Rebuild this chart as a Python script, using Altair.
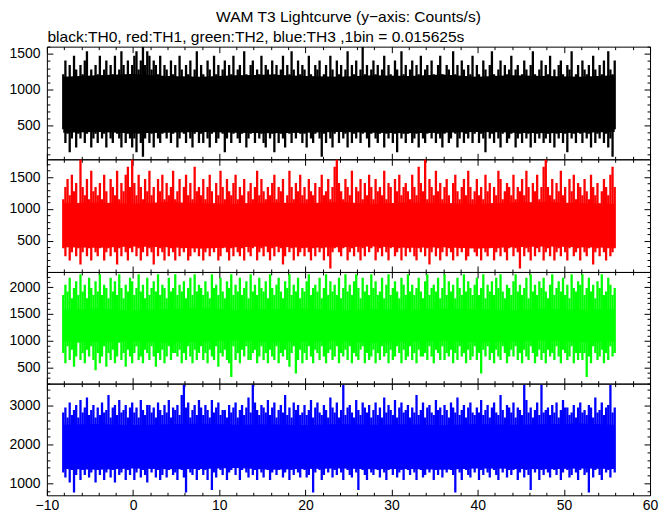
import altair as alt
import numpy as np
import pandas as pd

# ---------------- data ----------------
# Each light curve is summarised by the highest and lowest rate (counts/s)
# inside consecutive 0.25 s slices, starting at T0, plus the band that the
# trace fills solidly (sampled every 4 s).
T0 = -8.1
STEP = 0.25
CORE_STEP = 4.0

# TH0 (black)
th0_hi = [1216, 1408, 1152, 1344, 1088, 1472, 1280, 1152, 1344, 1216, 1408, 1536, 1152, 1280, 1024, 1344,
          1216, 1472, 1088, 1280, 1408, 1152, 1344, 1216, 1472, 1088, 1280, 1536, 1344, 1152, 1408, 1216,
          1344, 1472, 1536, 1280, 1408, 1600, 1344, 1536, 1472, 1280, 1408, 1344, 1216, 1472, 1152, 1344,
          1280, 1088, 1408, 1216, 1344, 1152, 1472, 1280, 1024, 1344, 1216, 1408, 1088, 1280, 1536, 1152,
          1344, 1216, 1088, 1408, 1280, 1152, 1472, 1216, 1344, 1088, 1280, 1408, 1152, 1344, 1216, 1472,
          1088, 1280, 1344, 1152, 1536, 1216, 1024, 1344, 1408, 1152, 1280, 1216, 1472, 1088, 1344, 1280,
          1152, 1408, 1216, 1344, 1088, 1280, 1472, 1152, 1344, 1216, 1536, 1280, 1088, 1408, 1216, 1344,
          1280, 1152, 1472, 1216, 1088, 1344, 1280, 1408, 1152, 1216, 1344, 1088, 1472, 1280, 1152, 1408,
          1216, 1344, 1088, 1280, 1536, 1152, 1344, 1216, 1408, 1088, 1280, 1600, 1216, 1344, 1152, 1280,
          1408, 1216, 1344, 1088, 1280, 1472, 1152, 1344, 1216, 1088, 1408, 1280, 1152, 1536, 1216, 1344,
          1088, 1280, 1408, 1152, 1344, 1216, 1472, 1088, 1280, 1344, 1152, 1408, 1216, 1088, 1344, 1472,
          1216, 1152, 1344, 1280, 1088, 1536, 1216, 1344, 1152, 1408, 1280, 1088, 1344, 1216, 1472, 1152,
          1344, 1216, 1088, 1408, 1280, 1152, 1344, 1536, 1216, 1088, 1280, 1408, 1152, 1344, 1216, 1280,
          1472, 1152, 1280, 1344, 1088, 1216, 1408, 1280, 1152, 1344, 1536, 1216, 1088, 1280, 1408, 1152,
          1344, 1216, 1472, 1088, 1280, 1152, 1344, 1408, 1216, 1088, 1344, 1280, 1536, 1152, 1216, 1344,
          1088, 1408, 1280, 1216, 1344, 1152, 1472, 1280, 1088, 1344, 1216, 1408, 1152, 1536, 1280, 1216,
          1408]
th0_lo = [448, 256, 384, 128, 320, 448, 192, 384, 320, 512, 256, 384, 448, 192, 320, 384,
          256, 448, 320, 384, 192, 512, 320, 256, 448, 384, 320, 192, 448, 256, 384, 320,
          192, 320, 128, 384, 256, 64, 320, 448, 256, 384, 192, 448, 320, 256, 384, 448,
          320, 448, 256, 384, 512, 192, 320, 448, 384, 256, 448, 320, 192, 384, 448, 256,
          384, 256, 448, 320, 192, 384, 512, 256, 320, 448, 384, 128, 320, 448, 256, 384,
          448, 320, 256, 384, 448, 192, 320, 384, 512, 256, 448, 320, 384, 256, 192, 448,
          320, 384, 128, 448, 256, 384, 320, 192, 448, 384, 256, 512, 320, 448, 384, 256,
          384, 192, 448, 320, 256, 384, 448, 320, 64, 384, 256, 448, 320, 192, 384, 448,
          256, 448, 320, 384, 192, 448, 256, 384, 320, 512, 256, 384, 448, 320, 192, 384,
          448, 320, 256, 384, 448, 192, 384, 320, 448, 256, 384, 128, 448, 320, 384, 256,
          384, 448, 256, 320, 384, 192, 448, 320, 256, 384, 448, 320, 512, 256, 384, 320,
          192, 384, 448, 256, 320, 448, 384, 192, 320, 448, 256, 384, 320, 448, 256, 384,
          448, 256, 384, 320, 128, 448, 320, 384, 256, 448, 320, 192, 384, 448, 256, 320,
          384, 448, 192, 320, 384, 256, 448, 320, 384, 192, 448, 256, 384, 320, 448, 256,
          320, 384, 256, 448, 192, 384, 320, 448, 256, 384, 128, 448, 320, 384, 256, 448,
          384, 256, 448, 320, 384, 192, 448, 256, 384, 320, 448, 256, 384, 192, 320, 64,
          448]
th0_core_hi = [1180, 1200, 1220, 1190, 1180, 1200, 1210, 1190, 1180, 1200, 1190, 1210, 1180, 1200, 1190, 1180, 1200]
th0_core_lo = [400, 410, 390, 400, 410, 400, 390, 400, 410, 400, 390, 400, 410, 400, 390, 400, 410]

# TH1 (red)
th1_hi = [1152, 1344, 1472, 1216, 1536, 1280, 1408, 1088, 1776, 1344, 1216, 1472, 1152, 1600, 1280, 1344,
          1216, 1408, 1152, 1536, 1280, 1088, 1472, 1344, 1216, 1600, 1152, 1408, 1280, 1536, 1664, 1344,
          1776, 1408, 1216, 1536, 1344, 1152, 1472, 1280, 1600, 1216, 1344, 1088, 1472, 1280, 1536, 1152,
          1408, 1216, 1344, 1600, 1152, 1280, 1472, 1088, 1344, 1536, 1216, 1408, 1152, 1664, 1280, 1344,
          1216, 1472, 1152, 1344, 1536, 1280, 1088, 1408, 1216, 1600, 1344, 1152, 1472, 1280, 1216, 1408,
          1536, 1152, 1344, 1216, 1472, 1088, 1280, 1408, 1152, 1344, 1600, 1216, 1472, 1280, 1152, 1344,
          1216, 1408, 1536, 1152, 1344, 1280, 1472, 1088, 1216, 1600, 1344, 1152, 1408, 1280, 1536, 1216,
          1344, 1152, 1472, 1280, 1216, 1408, 1088, 1344, 1536, 1216, 1280, 1472, 1152, 1344, 1664, 1776,
          1408, 1280, 1152, 1472, 1344, 1216, 1600, 1088, 1344, 1280, 1472, 1152, 1408, 1216, 1536, 1344,
          1152, 1472, 1280, 1344, 1216, 1600, 1152, 1408, 1344, 1088, 1472, 1280, 1536, 1216, 1344, 1408,
          1280, 1152, 1536, 1344, 1216, 1664, 1408, 1280, 1776, 1152, 1472, 1344, 1216, 1600, 1280, 1408,
          1152, 1344, 1472, 1216, 1088, 1408, 1536, 1280, 1152, 1344, 1472, 1216, 1600, 1344, 1152, 1280,
          1472, 1216, 1344, 1152, 1536, 1280, 1408, 1088, 1344, 1216, 1600, 1472, 1152, 1280, 1408, 1344,
          1216, 1536, 1152, 1344, 1280, 1472, 1216, 1600, 1344, 1088, 1408, 1280, 1536, 1152, 1344, 1664,
          1776, 1344, 1216, 1472, 1152, 1408, 1280, 1600, 1216, 1344, 1088, 1472, 1280, 1536, 1152, 1408,
          1344, 1216, 1472, 1280, 1152, 1536, 1344, 1216, 1408, 1088, 1280, 1472, 1344, 1216, 1536, 1664,
          1344]
th1_lo = [384, 256, 448, 192, 320, 448, 256, 384, 128, 320, 448, 256, 384, 192, 448, 320,
          256, 384, 448, 192, 320, 384, 256, 448, 320, 128, 384, 256, 448, 320, 192, 384,
          320, 448, 256, 384, 192, 320, 448, 256, 384, 320, 128, 448, 256, 384, 320, 192,
          448, 256, 384, 320, 192, 448, 256, 384, 320, 448, 192, 256, 384, 320, 448, 256,
          384, 192, 320, 448, 256, 384, 320, 448, 192, 256, 384, 448, 320, 192, 384, 256,
          448, 320, 256, 384, 192, 448, 320, 256, 384, 448, 192, 320, 384, 256, 448, 320,
          192, 384, 256, 448, 320, 384, 128, 256, 448, 320, 384, 192, 448, 256, 320, 384,
          256, 448, 320, 192, 384, 256, 448, 320, 384, 192, 448, 256, 64, 320, 384, 448,
          320, 256, 384, 448, 192, 320, 384, 256, 448, 320, 192, 384, 256, 448, 320, 384,
          448, 192, 320, 384, 256, 448, 320, 192, 384, 448, 256, 320, 384, 192, 448, 256,
          384, 320, 448, 256, 192, 384, 320, 448, 256, 384, 128, 320, 448, 256, 384, 192,
          320, 448, 256, 384, 320, 192, 448, 256, 384, 320, 448, 192, 256, 384, 448, 320,
          256, 384, 192, 448, 320, 256, 384, 448, 192, 320, 384, 256, 448, 320, 192, 384,
          448, 256, 384, 320, 64, 448, 256, 384, 320, 192, 448, 256, 384, 320, 448, 192,
          320, 384, 256, 448, 192, 320, 384, 256, 448, 320, 192, 384, 448, 256, 320, 384,
          192, 448, 320, 256, 384, 448, 128, 320, 384, 256, 448, 320, 192, 384, 256, 320,
          384]
th1_core_hi = [1090, 1100, 1080, 1110, 1090, 1080, 1100, 1090, 1110, 1080, 1100, 1090, 1080, 1100, 1110, 1090, 1080]
th1_core_lo = [400, 390, 410, 400, 380, 400, 410, 390, 400, 410, 390, 400, 380, 400, 410, 400, 390]

# TH2 (green)
th2_hi = [1856, 2048, 1920, 2176, 1792, 1984, 2112, 1856, 2240, 1920, 2048, 1792, 2176, 1984, 1856, 2112,
          1920, 2240, 1856, 2048, 1984, 1792, 2176, 1920, 2112, 1856, 2240, 1984, 1792, 2048, 1920, 2176,
          2112, 1856, 1984, 2240, 1920, 2048, 1792, 2176, 1856, 1984, 2112, 1920, 2240, 1856, 2048, 1984,
          1792, 2176, 1920, 1984, 2240, 1856, 2048, 1920, 2112, 1792, 1984, 2176, 1856, 2240, 1920, 2048,
          1984, 1856, 2112, 1920, 1792, 2240, 1984, 2048, 1856, 2176, 1920, 1792, 2112, 1984, 2240, 1856,
          2048, 1920, 2176, 1856, 1984, 2112, 1792, 2240, 1920, 2048, 1856, 2176, 1984, 1920, 2112, 1792,
          2240, 1984, 1856, 2048, 2176, 1920, 1792, 2112, 1984, 2240, 1856, 2048, 1920, 2176, 1792, 1984,
          1920, 2112, 2240, 1856, 1984, 2048, 1920, 2176, 1792, 1984, 2240, 1856, 2112, 1920, 2048, 1856,
          2176, 1792, 1984, 2240, 1920, 2048, 1856, 2112, 2240, 1984, 1792, 2176, 1920, 2048, 1856, 2240,
          1984, 2112, 1856, 1920, 2176, 1792, 2048, 2240, 1856, 1984, 2112, 1920, 1792, 2176, 2048, 1856,
          2240, 1920, 2048, 1856, 1984, 2176, 1920, 1792, 2112, 2240, 1856, 1984, 2048, 1920, 2176, 1792,
          1984, 2240, 1856, 2112, 1920, 2048, 1792, 2176, 1984, 1856, 2240, 1920, 2112, 1984, 1856, 2048,
          2176, 1856, 1984, 2240, 1792, 2048, 1920, 2112, 1856, 2176, 1984, 2240, 1920, 1792, 2048, 1984,
          1856, 2112, 2240, 1920, 2048, 1856, 1984, 2176, 1792, 2240, 1920, 2048, 1856, 2112, 1984, 2176,
          1920, 1792, 2048, 2240, 1856, 1984, 2112, 1920, 2176, 1856, 2048, 1792, 2240, 1984, 1920, 2112,
          2048, 2240, 1856, 1984, 2176, 1920, 2048, 1792, 2112, 1984, 2240, 1856, 1920, 2176, 2048, 1856,
          1984]
th2_lo = [768, 576, 896, 640, 832, 512, 704, 960, 640, 768, 576, 832, 704, 896, 640, 448,
          768, 576, 704, 896, 512, 768, 640, 832, 576, 704, 960, 640, 768, 512, 832, 704,
          576, 768, 896, 640, 704, 576, 832, 768, 640, 896, 704, 512, 768, 640, 832, 576,
          704, 896, 640, 768, 768, 704, 832, 576, 768, 640, 896, 704, 576, 832, 640, 768,
          896, 640, 768, 576, 832, 704, 640, 896, 512, 768, 704, 832, 640, 576, 320, 896,
          640, 768, 576, 832, 704, 896, 640, 640, 768, 832, 576, 704, 896, 640, 768, 576,
          832, 704, 640, 896, 576, 768, 704, 832, 640, 512, 768, 896, 384, 640, 832, 576,
          768, 640, 896, 704, 576, 832, 768, 640, 896, 704, 576, 768, 832, 640, 704, 896,
          576, 768, 704, 832, 640, 896, 576, 768, 704, 640, 832, 896, 576, 768, 640, 704,
          832, 576, 768, 640, 896, 704, 768, 576, 832, 640, 704, 896, 768, 576, 832, 640,
          704, 896, 640, 768, 576, 832, 704, 704, 768, 640, 896, 704, 576, 832, 768, 640,
          896, 640, 768, 704, 832, 576, 768, 640, 896, 704, 768, 576, 832, 640, 704, 896,
          640, 768, 384, 832, 704, 896, 640, 768, 576, 832, 704, 640, 896, 768, 576, 704,
          832, 704, 896, 640, 768, 576, 832, 704, 640, 896, 768, 576, 704, 832, 640, 768,
          576, 832, 704, 768, 640, 896, 704, 576, 832, 768, 640, 704, 896, 576, 768, 640,
          768, 640, 768, 320, 704, 576, 896, 768, 640, 704, 832, 576, 768, 640, 896, 704,
          768]
th2_core_hi = [1580, 1600, 1570, 1590, 1610, 1580, 1590, 1600, 1570, 1590, 1580, 1600, 1590, 1570, 1600, 1580, 1590]
th2_core_lo = [980, 970, 990, 960, 980, 1000, 970, 980, 990, 960, 980, 990, 970, 980, 1000, 970, 980]

# TH3 (blue)
th3_hi = [2816, 2944, 2688, 3072, 2752, 2880, 3008, 2688, 3136, 2816, 2944, 3200, 2752, 2880, 3008, 2688,
          2944, 2752, 3072, 2816, 2880, 3264, 2688, 2944, 3008, 2752, 3136, 2816, 2880, 3008, 2688, 2944,
          3072, 2816, 2944, 2688, 3136, 2880, 2752, 3008, 3008, 2816, 2944, 2688, 3072, 2880, 2752, 3008,
          2816, 3136, 2688, 2944, 2880, 3008, 2752, 3264, 3520, 2944, 3072, 2688, 2880, 3008, 2752, 3136,
          2944, 2752, 3008, 2880, 2688, 3136, 2816, 2944, 3072, 2752, 2880, 2880, 2688, 3008, 2816, 2944,
          3072, 2688, 2880, 3008, 2752, 2944, 3200, 2816, 3520, 3072, 2880, 2752, 3008, 2944, 2816, 3136,
          2752, 2944, 3072, 2688, 2880, 3008, 2816, 3264, 2752, 2944, 2688, 3072, 2880, 3008, 2752, 2816,
          3008, 2752, 2880, 3136, 2688, 2944, 3072, 2816, 2752, 3008, 2880, 2688, 3200, 2944, 2816, 3072,
          2688, 2880, 3520, 2752, 2944, 3008, 2816, 2688, 3136, 2880, 2752, 3072, 2944, 2816, 3008, 2688,
          2880, 3072, 2752, 2944, 2688, 3200, 2816, 3008, 2880, 2752, 3136, 2688, 2944, 3072, 2816, 2880,
          3008, 2688, 2944, 2816, 3264, 2752, 2880, 3072, 2688, 2944, 3008, 2816, 2752, 3136, 2880, 2944,
          2752, 3008, 2880, 2688, 3072, 2944, 2816, 3200, 2752, 2880, 3008, 2688, 2944, 3072, 2816, 2752,
          2944, 2816, 3136, 2752, 2880, 3008, 2688, 2944, 3072, 2816, 2752, 3264, 2880, 2688, 3008, 2944,
          2816, 3072, 2688, 2944, 2880, 2752, 3520, 3136, 2816, 2944, 2688, 2880, 3072, 2752, 3520, 2816,
          2880, 2944, 2752, 3008, 2816, 3072, 2688, 2880, 3136, 2944, 2944, 2752, 2816, 3008, 2688, 2944,
          3072, 2816, 2880, 2752, 3008, 2944, 2688, 3200, 2816, 2880, 3072, 2752, 2944, 3008, 3520, 2816,
          2944]
th3_lo = [1280, 1152, 1408, 1024, 1344, 768, 1216, 1472, 1088, 1344, 1216, 1408, 1152, 1280, 1472, 1024,
          1344, 1216, 1472, 1088, 1280, 1408, 1152, 1344, 1024, 1472, 1216, 1280, 1408, 1088, 1344, 1216,
          1408, 1088, 1280, 1472, 1152, 1344, 1216, 1024, 1408, 1280, 1472, 1152, 1344, 1088, 1216, 1408,
          1152, 1344, 1472, 1216, 1280, 1088, 1408, 1344, 1152, 768, 1472, 1280, 1216, 1408, 1088, 1344,
          1472, 1216, 1344, 1088, 1408, 832, 1280, 1152, 1472, 1344, 1216, 1408, 1088, 1280, 1344, 1472,
          1216, 1408, 1088, 1344, 1472, 1280, 1152, 1408, 1216, 1344, 1088, 1472, 1280, 1152, 1408, 1344,
          1088, 1280, 1472, 1216, 1344, 1408, 1152, 1280, 1472, 1088, 1344, 1216, 1408, 1280, 1152, 1472,
          1344, 1152, 1216, 1408, 768, 1280, 1472, 1344, 1088, 1216, 1408, 1280, 1472, 1152, 1344, 1216,
          1408, 1280, 1088, 1472, 1344, 1216, 1152, 1408, 1280, 832, 1472, 1344, 1216, 1088, 1408, 1280,
          1216, 1472, 1344, 1152, 1408, 1280, 1088, 1344, 1472, 1216, 1408, 1152, 1280, 1344, 1088, 1472,
          1344, 1216, 1408, 1280, 1088, 1472, 1344, 1152, 1216, 1408, 1280, 1472, 1088, 1344, 1216, 1408,
          1152, 1408, 1280, 1472, 1344, 1216, 768, 1408, 1280, 1088, 1472, 1344, 1216, 1152, 1408, 1280,
          1472, 1088, 1344, 1216, 1408, 1280, 1152, 1472, 1344, 1216, 1088, 1408, 1280, 1472, 1152, 1344,
          1216, 1344, 1408, 1088, 1280, 1472, 1152, 1344, 1216, 832, 1408, 1280, 1472, 1088, 1344, 1216,
          1408, 1280, 1152, 1472, 1344, 1216, 1408, 1088, 1280, 1472, 1344, 1152, 1216, 1408, 1280, 1088,
          1344, 1472, 1216, 1280, 768, 1408, 1152, 1344, 1472, 1216, 1088, 1408, 1280, 1344, 1152, 1472,
          1280]
th3_core_hi = [2500, 2520, 2490, 2510, 2530, 2500, 2510, 2490, 2520, 2500, 2510, 2490, 2520, 2500, 2510, 2530, 2500]
th3_core_lo = [1370, 1350, 1380, 1360, 1370, 1390, 1350, 1370, 1380, 1360, 1370, 1350, 1380, 1370, 1360, 1380, 1370]

panel_colors = ["#000000", "#ff0000", "#00ff00", "#0000ff"]
y_domains = [[28, 1600], [10, 1780], [196, 2285], [694, 3553]]
y_major = [[500, 1000, 1500], [500, 1000, 1500], [500, 1000, 1500, 2000], [1000, 2000, 3000]]
y_minor_step = [100, 100, 100, 200]
x_major = list(range(-10, 61, 10))
x_minor = [v for v in range(-10, 61, 2) if v % 10 != 0]

title_text = "WAM T3 Lightcurve (y\u2212axis: Counts/s)"
subtitle_text = "black:TH0, red:TH1, green:TH2, blue:TH3 ,1bin = 0.015625s"

FONT = "Liberation Sans"
TITLE_SIZE = 15.6
W = 605
HEIGHTS = [113, 113, 112, 112]
MAJ, MIN = 6, 3
COL_W = 2.3   # drawn width of one 0.25 s slice (px)


def tick_axis(orient, offset, values, size):
    return alt.Axis(orient=orient, offset=offset, values=values, tickSize=size,
                    ticks=True, labels=False, domain=False, grid=False, title=None,
                    tickColor="black", tickWidth=1)


def panel(idx, hi, lo, core_hi, core_lo):
    H = HEIGHTS[idx]
    color = panel_colors[idx]
    ydom = y_domains[idx]
    major = y_major[idx]
    st = y_minor_step[idx]
    minor = [v for v in range(0, 4000, st)
             if ydom[0] <= v <= ydom[1] and v % (5 * st) != 0]
    first = idx == 0
    last = idx == 3

    df = pd.DataFrame({"t": T0 + STEP * np.arange(len(hi)), "hi": hi, "lo": lo})
    cdf = pd.DataFrame({"t": T0 + CORE_STEP * np.arange(len(core_hi)), "hi": core_hi, "lo": core_lo})

    xs = alt.Scale(domain=[-10, 60], nice=False, zero=False)
    ys = alt.Scale(domain=ydom, nice=False, zero=False)

    label_x = (alt.Axis(orient="bottom", values=x_major, format="d", ticks=False, domain=False,
                        grid=False, labelPadding=3, labelFontSize=14, labelFont=FONT,
                        labelColor="black", labelFlush=False, labelOverlap=False, title=None)
               if last else None)
    label_y = alt.Axis(orient="left", values=major, format="d", ticks=False, domain=False,
                       grid=False, labelPadding=7, labelFontSize=14, labelFont=FONT,
                       labelColor="black", labelFlush=False, labelOverlap=False, title=None)

    core = alt.Chart(cdf).mark_area(color=color, interpolate="linear", clip=True).encode(
        x=alt.X("t:Q", scale=xs, axis=label_x),
        y=alt.Y("lo:Q", scale=ys, axis=label_y),
        y2="hi:Q",
    )
    curve = alt.Chart(df).mark_rule(color=color, strokeWidth=COL_W, clip=True).encode(
        x=alt.X("t:Q", scale=xs, axis=tick_axis("bottom", -H, x_major, MAJ)),
        y=alt.Y("lo:Q", scale=ys, axis=tick_axis("right", -W, major, MAJ)),
        y2="hi:Q",
    )

    def ghost(xax, yax):
        return alt.Chart(cdf.head(2)).mark_point(opacity=0, size=1).encode(
            x=alt.X("t:Q", scale=xs, axis=xax),
            y=alt.Y("lo:Q", scale=ys, axis=yax),
        )

    layers = [
        core,
        curve,
        ghost(tick_axis("bottom", -H, x_minor, MIN), tick_axis("right", -W, minor, MIN)),
        ghost(tick_axis("top", -H, x_major, MAJ), tick_axis("left", -W, major, MAJ)),
        ghost(tick_axis("top", -H, x_minor, MIN), tick_axis("left", -W, minor, MIN)),
    ]
    if first:
        layers.append(ghost(
            alt.Axis(orient="top", ticks=False, labels=False, domain=False, grid=False,
                     title=subtitle_text, titleAnchor="start", titleAlign="left",
                     titleFontSize=TITLE_SIZE, titleFontWeight="normal", titleFont=FONT,
                     titleColor="black", titlePadding=2),
            None))

    ch = alt.layer(*layers).resolve_axis(x="independent", y="independent").properties(width=W, height=H)
    if first:
        ch = ch.properties(title=alt.TitleParams(text=title_text, anchor="middle", frame="group",
                                                 offset=4, fontSize=TITLE_SIZE, font=FONT,
                                                 fontWeight="normal", color="black"))
    return ch


p1 = panel(0, th0_hi, th0_lo, th0_core_hi, th0_core_lo)
p2 = panel(1, th1_hi, th1_lo, th1_core_hi, th1_core_lo)
p3 = panel(2, th2_hi, th2_lo, th2_core_hi, th2_core_lo)
p4 = panel(3, th3_hi, th3_lo, th3_core_hi, th3_core_lo)

chart = (
    alt.vconcat(p1, p2, p3, p4, spacing=0, bounds="flush")
    .properties(padding={"left": 0, "top": 0, "right": 5, "bottom": 0}, background="white")
    .configure_view(stroke="black", strokeWidth=1)
    .configure_axis(labelFont=FONT, titleFont=FONT)
)

chart.save("out.html", embed_options={"renderer": "svg", "actions": False})
